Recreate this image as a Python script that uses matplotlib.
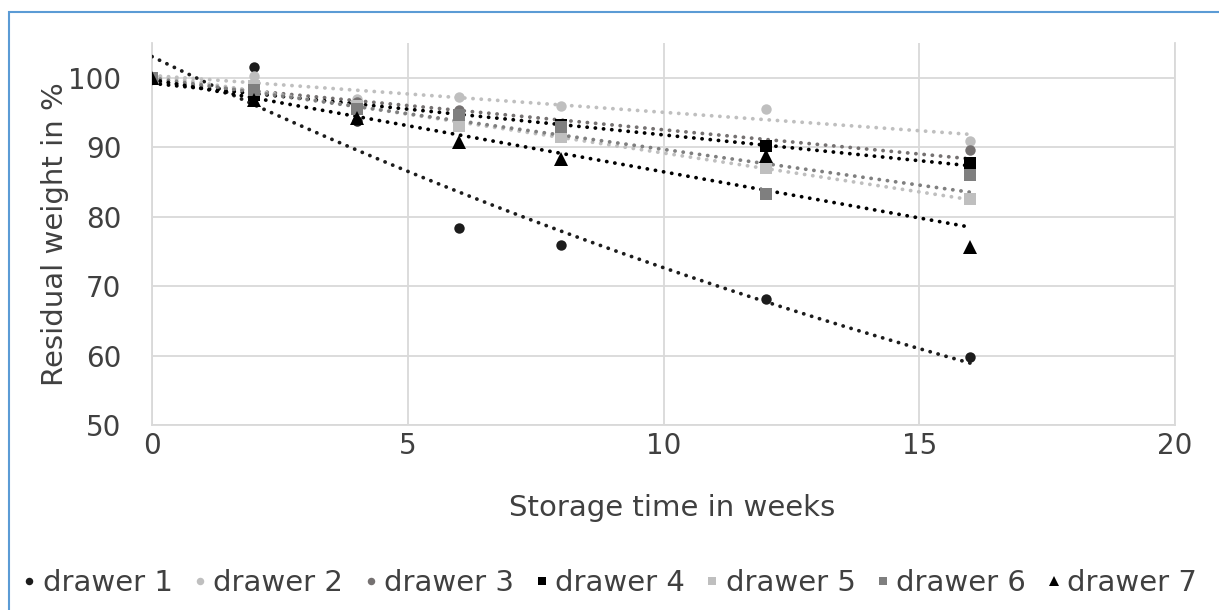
import numpy as np
import matplotlib
matplotlib.use("Agg")
import matplotlib.pyplot as plt
from matplotlib.patches import Rectangle
from matplotlib.lines import Line2D

# ============================================================
# DATA
# ============================================================

weeks = [0, 2, 4, 6, 8, 12, 16]

drawer_1 = [100, 101.5, 93.8, 78.3, 75.9, 68.1, 59.8]
drawer_2 = [100, 100.3, 96.9, 97.2, 96.0, 95.5, 90.9]
drawer_3 = [100, 98.5, 96.5, 95.3, 93.0, 90.0, 89.6]
drawer_4 = [100, 97.5, 95.8, 94.3, 93.2, 90.2, 87.7]
drawer_5 = [100, 98.8, 96.0, 93.0, 91.4, 87.0, 82.5]
drawer_6 = [100, 98.2, 95.5, 94.6, 92.9, 83.2, 86.0]
drawer_7 = [100, 96.8, 94.2, 90.7, 88.3, 88.7, 75.7]

labels = ["drawer 1", "drawer 2", "drawer 3", "drawer 4",
          "drawer 5", "drawer 6", "drawer 7"]

# ============================================================
# STYLE
# ============================================================

series = [drawer_1, drawer_2, drawer_3, drawer_4,
          drawer_5, drawer_6, drawer_7]
colors = ["#1c1c1c", "#bfbfbf", "#757171", "#000000",
          "#bfbfbf", "#7f7f7f", "#000000"]
markers = ["o", "o", "o", "s", "s", "s", "^"]
msizes = [7.5, 7.5, 7.5, 8, 8, 8, 10.5]
# drawer 1 has an exponential trend, all others linear
trend_kind = ["exp", "lin", "lin", "lin", "lin", "lin", "lin"]

text_color = "#404040"
grid_color = "#d9d9d9"
fs = 21

plt.rcParams["font.family"] = "DejaVu Sans"

# ============================================================
# FIGURE
# ============================================================

fig = plt.figure(figsize=(12.19, 6.10), dpi=100)
ax = fig.add_axes([152 / 1219, 1 - 425 / 610,
                   (1175 - 152) / 1219, (425 - 43) / 610])

x = np.array(weeks, dtype=float)
xs = np.linspace(0, 16, 200)

for i, y in enumerate(series):
    y = np.array(y, dtype=float)
    if trend_kind[i] == "exp":
        b, a = np.polyfit(x, np.log(y), 1)
        ys = np.exp(a) * np.exp(b * xs)
    else:
        m, c = np.polyfit(x, y, 1)
        ys = m * xs + c
    ax.plot(xs, ys, color=colors[i], lw=2.7,
            linestyle=(0, (0.05, 2.15)), dash_capstyle="round",
            zorder=3 + i)

for i, y in enumerate(series):
    ax.plot(weeks, y, linestyle="none", marker=markers[i],
            markersize=msizes[i], color=colors[i],
            markeredgewidth=0, zorder=10 + i)

# ============================================================
# AXES
# ============================================================

ax.set_xlim(0, 20)
ax.set_ylim(50, 105)
ax.set_xticks([0, 5, 10, 15, 20])
ax.set_yticks([50, 60, 70, 80, 90, 100])

ax.grid(True, color=grid_color, lw=1.3, zorder=0)
ax.set_axisbelow(True)

ax.spines["top"].set_visible(False)
for side in ["left", "right", "bottom"]:
    ax.spines[side].set_color(grid_color)
    ax.spines[side].set_linewidth(1.3)

ax.tick_params(length=0, labelsize=20, colors=text_color)
ax.tick_params(axis="x", pad=5)
ax.tick_params(axis="y", pad=22)

ax.set_xlabel("Storage time in weeks", fontsize=fs,
              color=text_color, va="center")
ax.set_ylabel("Residual weight in %", fontsize=fs,
              color=text_color, va="center")
ax.xaxis.set_label_coords(0.5 + 9 / 1023, (425 - 508) / 382)
ax.yaxis.set_label_coords((55 - 152) / 1023, 0.5)

# ============================================================
# LEGEND
# ============================================================

handles = [
    Line2D([], [], linestyle="none", marker=markers[i],
           markersize=msizes[i] * 0.72, color=colors[i],
           markeredgewidth=0)
    for i in range(7)
]

fig.legend(handles, labels, loc="center",
           bbox_to_anchor=(0.5, 1 - 583 / 610), ncol=7,
           frameon=False, fontsize=fs, handlelength=0.5,
           handletextpad=0.2, columnspacing=0.7,
           labelcolor=text_color)

# ============================================================
# CHART BORDER
# ============================================================

fig.patches.append(Rectangle(
    (9 / 1219, -0.1), 1.2, 1.1 - 12 / 610,
    transform=fig.transFigure, fill=False,
    edgecolor="#5b9bd5", lw=1.5))

fig.savefig("out.png", dpi=100)
